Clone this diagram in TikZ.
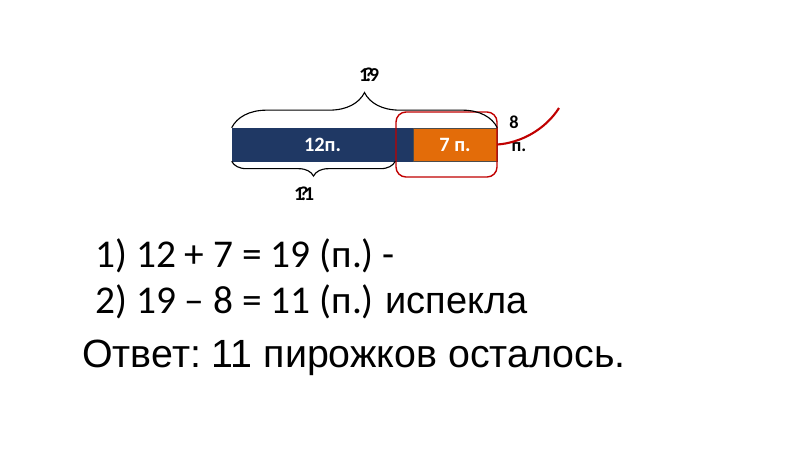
\documentclass[tikz,border=0pt]{standalone}
\usepackage{fontspec}
\setmainfont{Carlito}
\newfontfamily\arialfont{Liberation Sans}
\usepackage{xcolor}
\usetikzlibrary{positioning,decorations.pathreplacing}
\definecolor{barblue}{RGB}{31,56,100}
\definecolor{barorange}{RGB}{227,108,9}
\definecolor{darkred}{RGB}{192,0,0}
\frenchspacing

\begin{document}
\begin{tikzpicture}[x=0.025cm, y=-0.025cm,
  bar/.style={draw, inner sep=0pt, minimum height=0.825cm, text=white, font=\fontsize{14.5}{16}\selectfont\bfseries},
  qlabel/.style={inner sep=0pt, font=\fontsize{14}{16}\selectfont\bfseries},
  eqline/.style={anchor=base west, inner sep=0pt, font=\fontsize{28}{30}\selectfont},
  bigbrace/.style={decorate, decoration={brace, amplitude=#1}, thick}]
\useasboundingbox (0,0) rectangle (800,450);
% line segments
\node[bar, draw=barblue, fill=barblue, minimum width=4.525cm] (blue) at (322.5,144.5) {12п.};
\node[bar, draw=black!70, fill=barorange, minimum width=2.1cm] (orange) at (455,144.5) {7 п.};
\node[draw=darkred, line width=1pt, rounded corners=0.25cm, minimum width=2.525cm, minimum height=1.625cm] (ring) at (446.5,144.5) {};
% braces and labels
\draw[bigbrace=25pt] (blue.north west) -- (orange.north east);
\draw[bigbrace=10.5pt] (ring.west |- blue.south) -- (blue.south west);
\node[qlabel] (topq) at (369,75) {?};
\node[qlabel] (topsum) at (369,75) {19};
\node[qlabel] (botq) at (304,194) {?};
\node[qlabel] (botrest) at (304,194) {11};
\node[qlabel, font=\fontsize{13}{15}\selectfont\bfseries] (eight) at (514,122) {8};
\node[qlabel, font=\fontsize{13}{15}\selectfont\bfseries] (eightp) at (519,147) {п.};
\coordinate (curveend) at (559,108);
\draw[darkred, line width=1.5pt] (orange.east) .. controls (520,143) and (545,130) .. (curveend);
% solution
\node[eqline] (step1) at (95,267) {1) 12 + 7 = 19 (п.) -};
\node[eqline] (step2) at (95,313) {2) 19 – 8 = 11 (п.)};
\node[eqline, font=\fontsize{27}{30}\selectfont\arialfont] (baked) at (385,313) {испекла};
\node[eqline, font=\fontsize{28}{30}\selectfont\arialfont] (answer) at (82,367) {Ответ: 11 пирожков осталось.};
\end{tikzpicture}
\end{document}
